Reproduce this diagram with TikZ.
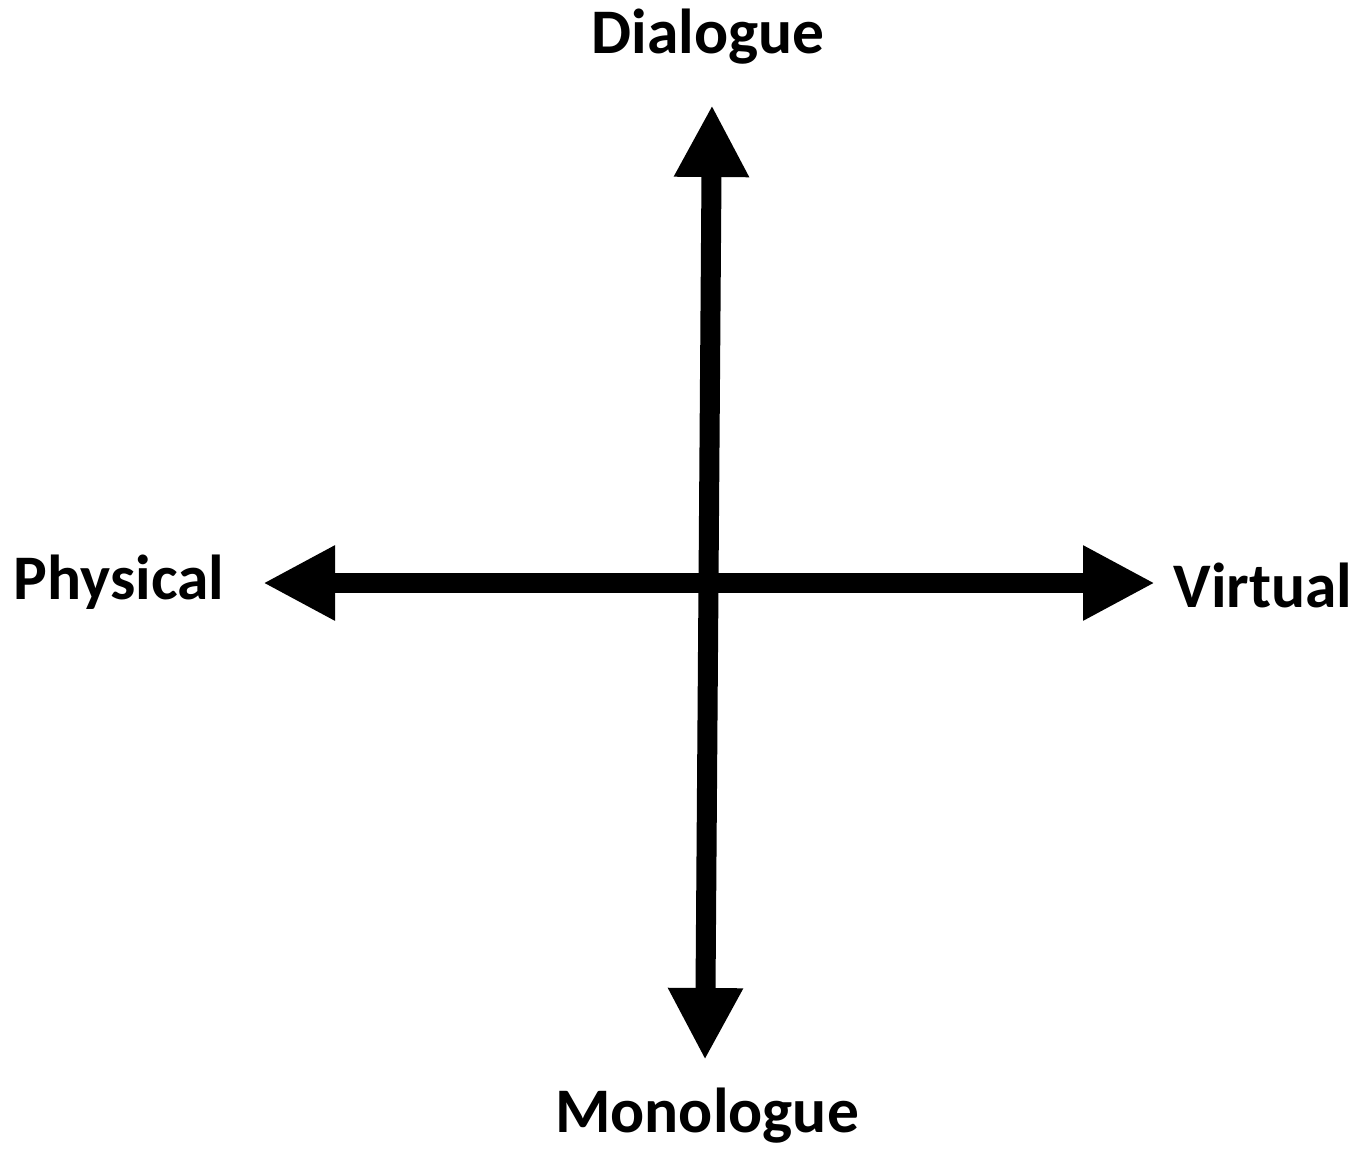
\documentclass[tikz,border=0pt]{standalone}
\usepackage{fontspec}
\setmainfont{Carlito}
\usetikzlibrary{arrows.meta}
\begin{document}
\begin{tikzpicture}[x=1pt,y=-1pt,
  axis/.style={line width=20pt,-{Triangle[length=72pt,width=70pt]}},
  axislabel/.style={font=\fontsize{63.5}{72}\selectfont\bfseries,inner sep=0pt}]
\useasboundingbox (0,0) rectangle (1360,1149);
\coordinate (top) at (712,105);
\coordinate (bot) at (705,1060);
\coordinate (left) at (263,583);
\coordinate (right) at (1155,583);
\coordinate (ctr) at (708.5,583);
\draw[axis] (ctr) -- (top);
\draw[axis] (ctr) -- (bot);
\draw[axis] (ctr) -- (left);
\draw[axis] (ctr) -- (right);
\node[axislabel] (dia) at (708,37) {Dialogue};
\node[axislabel] (mono) at (707,1116) {Monologue};
\node[axislabel] (phys) at (119,582) {Physical};
\node[axislabel] (virt) at (1263,585) {Virtual};
\end{tikzpicture}
\end{document}
